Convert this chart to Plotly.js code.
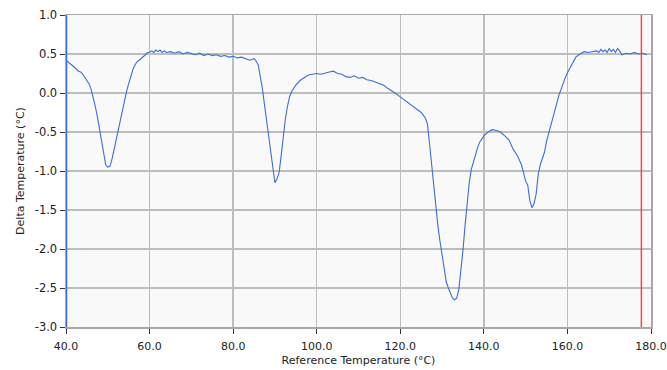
<!DOCTYPE html>
<html>
<head>
<meta charset="utf-8">
<script src="https://cdn.plot.ly/plotly-3.0.1.min.js"></script>
<style>html,body{margin:0;padding:0;background:#fff;}#chart{width:667px;height:370px;}</style>
</head>
<body>
<div id="chart"></div>
<script>
const refTemp = [40,40.5,41,42,43,43.5,44,44.5,45,45.5,46,46.5,47,47.5,48,48.5,49,49.5,50,50.5,51,51.5,52,52.5,53,53.5,54,54.5,55,55.5,56,56.5,57,57.5,58,58.5,59,59.5,60,60.5,61,61.5,62,62.5,63,63.5,64,65,66,67,68,69,70,71,72,73,74,75,76,77,78,79,80,81,82,83,84,85,85.5,86,86.5,87,87.5,88,88.5,89,89.5,90,90.5,91,91.5,92,92.5,93,93.5,94,95,96,97,98,99,100,101,102,103,104,105,106,107,108,109,110,111,112,113,114,115,116,117,118,119,120,121,122,123,124,125,126,126.5,127,127.5,128,128.5,129,129.5,130,130.5,131,131.5,132,132.5,133,133.5,134,134.5,135,135.5,136,136.5,137,137.5,138,138.5,139,140,141,142,143,144,145,146,146.5,147,148,148.5,149,149.5,150,150.5,151,151.5,152,152.5,153,153.5,154,154.5,155,155.5,156,156.5,157,157.5,158,158.5,159,159.5,160,160.5,161,161.5,162,163,164,165,166,167,167.5,168,168.5,169,169.5,170,170.5,171,171.5,172,172.5,173,174,175,176,177,178,179,180];
const deltaTemp = [0.42,0.40,0.37,0.33,0.28,0.27,0.24,0.20,0.16,0.12,0.05,-0.05,-0.17,-0.30,-0.45,-0.62,-0.78,-0.92,-0.95,-0.94,-0.85,-0.72,-0.60,-0.48,-0.35,-0.22,-0.10,0.02,0.12,0.22,0.30,0.36,0.40,0.42,0.44,0.46,0.49,0.52,0.52,0.54,0.52,0.55,0.53,0.55,0.52,0.54,0.52,0.53,0.51,0.53,0.50,0.52,0.50,0.49,0.51,0.48,0.50,0.48,0.49,0.47,0.48,0.46,0.47,0.45,0.46,0.44,0.42,0.44,0.41,0.36,0.22,0.06,-0.15,-0.36,-0.55,-0.78,-1.00,-1.15,-1.10,-1.02,-0.80,-0.55,-0.33,-0.17,-0.05,0.02,0.10,0.16,0.20,0.23,0.24,0.25,0.24,0.26,0.27,0.28,0.25,0.24,0.21,0.20,0.22,0.19,0.20,0.17,0.16,0.14,0.12,0.10,0.06,0.03,-0.01,-0.05,-0.09,-0.14,-0.17,-0.21,-0.25,-0.32,-0.40,-0.65,-0.92,-1.15,-1.40,-1.70,-1.90,-2.08,-2.28,-2.42,-2.50,-2.56,-2.63,-2.65,-2.63,-2.52,-2.30,-2.02,-1.70,-1.40,-1.15,-0.98,-0.88,-0.78,-0.70,-0.63,-0.55,-0.50,-0.47,-0.48,-0.50,-0.55,-0.60,-0.66,-0.72,-0.80,-0.86,-0.92,-1.02,-1.13,-1.18,-1.38,-1.47,-1.42,-1.30,-1.05,-0.92,-0.84,-0.76,-0.62,-0.52,-0.42,-0.32,-0.22,-0.10,-0.02,0.05,0.14,0.20,0.26,0.31,0.36,0.42,0.46,0.50,0.53,0.52,0.53,0.54,0.52,0.56,0.53,0.55,0.52,0.57,0.53,0.56,0.52,0.57,0.54,0.49,0.51,0.50,0.52,0.50,0.51,0.49];
const cursorLeft = 40;
const cursorRight = 177.7;
const xTicks = [40,60,80,100,120,140,160,180];
const xTickLabels = ["40.0","60.0","80.0","100.0","120.0","140.0","160.0","180.0"];
const yTicks = [-3,-2.5,-2,-1.5,-1,-0.5,0,0.5,1];
const yTickLabels = ["-3.0","-2.5","-2.0","-1.5","-1.0","-0.5","0.0","0.5","1.0"];

const fam = "DejaVu Sans, Verdana, sans-serif";
const data = [{
  x: refTemp, y: deltaTemp, type: "scatter", mode: "lines",
  line: {color: "#3a6fd6", width: 1.1}, hoverinfo: "skip"
}];
const layout = {
  width: 667, height: 370,
  margin: {l: 66, r: 16, t: 15, b: 43},
  paper_bgcolor: "#ffffff", plot_bgcolor: "#f9f9f9",
  showlegend: false, font: {family: fam, size: 11, color: "#222"},
  xaxis: {
    range: [40, 180], tickvals: xTicks, ticktext: xTickLabels,
    showgrid: true, gridcolor: "#bdbdbd", gridwidth: 1.5,
    zeroline: false, showline: true, linecolor: "#a8a8a8", linewidth: 1.5, mirror: true,
    ticks: "outside", ticklen: 5, tickcolor: "#333", tickwidth: 1, ticklabelstandoff: 3,
    tickfont: {family: fam, size: 11, color: "#222"},
    title: {text: "Reference Temperature (°C)", font: {family: fam, size: 11, color: "#222"}, standoff: 4}
  },
  yaxis: {
    range: [-3, 1], tickvals: yTicks, ticktext: yTickLabels,
    showgrid: true, gridcolor: "#bdbdbd", gridwidth: 1.5,
    zeroline: false, showline: true, linecolor: "#a8a8a8", linewidth: 1.5, mirror: true,
    ticks: "outside", ticklen: 5, tickcolor: "#333", tickwidth: 1,
    tickfont: {family: fam, size: 11.5, color: "#222"},
    title: {text: "Delta Temperature (°C)", font: {family: fam, size: 11, color: "#222"}, standoff: 8}
  },
  shapes: [
    {type: "line", xref: "x", yref: "paper", x0: cursorLeft, x1: cursorLeft, y0: 0, y1: 1,
     line: {color: "#3a6fd6", width: 2.5}},
    {type: "line", xref: "x", yref: "paper", x0: cursorRight, x1: cursorRight, y0: 0, y1: 1,
     line: {color: "#f04848", width: 1.5}}
  ]
};
Plotly.newPlot("chart", data, layout, {displayModeBar: false, staticPlot: true});
</script>
</body>
</html>
